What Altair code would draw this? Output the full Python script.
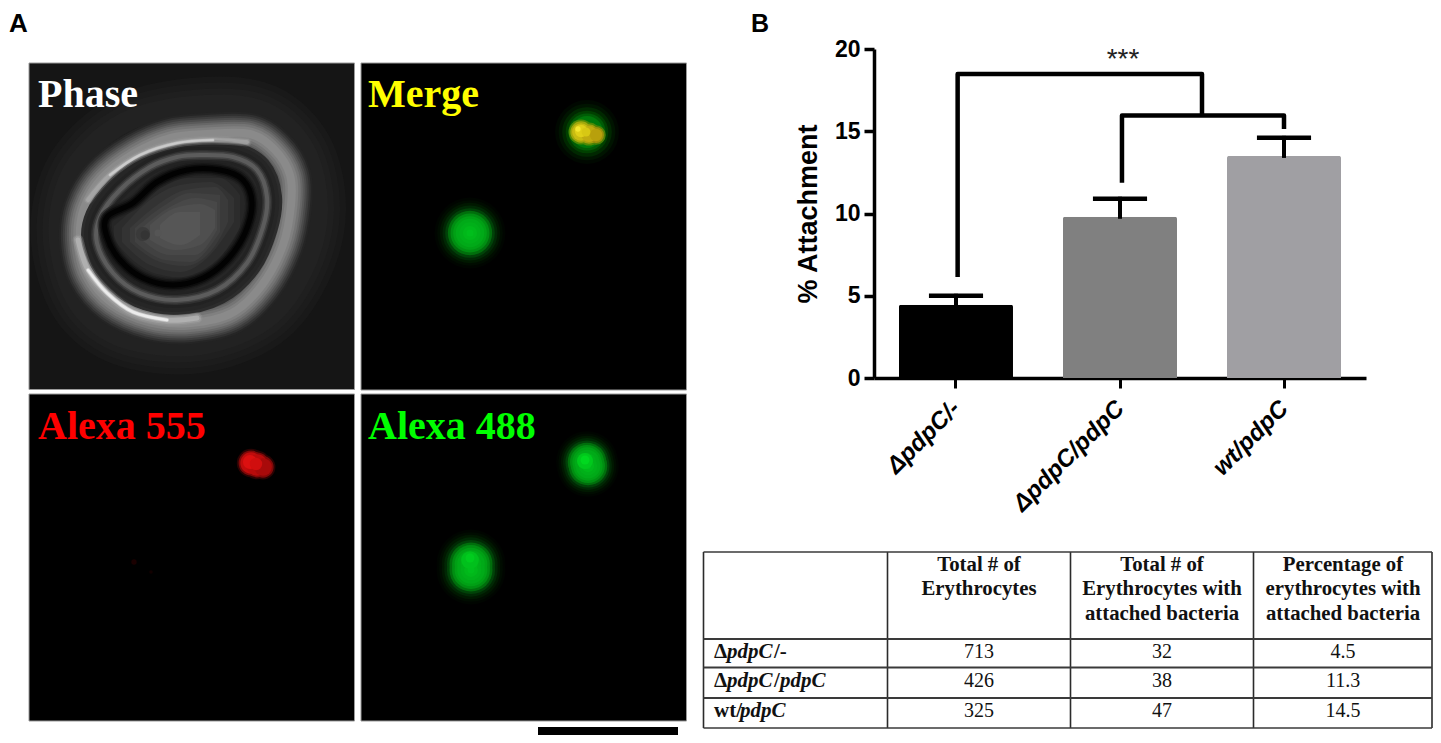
import altair as alt
import pandas as pd

# ---------- chart data ----------
strains = ["ΔpdpC/-", "ΔpdpC/pdpC", "wt/pdpC"]
attachment = [4.45, 9.8, 13.5]
attachment_upper = [5.0, 10.9, 14.6]
bar_colors = ["#000000", "#808080", "#a09fa3"]
y_ticks = [0, 5, 10, 15, 20]

erythrocytes = [713, 426, 325]
with_bacteria = [32, 38, 47]
percentage = [4.5, 11.3, 14.5]

# significance brackets, in (group index, % attachment)
bracket_outer = [(0.01, 6.14), (0.01, 18.48), (1.5, 18.48), (1.5, 15.95)]
bracket_inner = [(1.012, 11.87), (1.012, 15.95), (2.0, 15.95), (2.0, 15.14)]

# ---------- micrograph outlines (image pixels) ----------
band_ring = [(207,134),(250,134),(275,150),(290,175),(291,205),(283,245),(262,285),(232,313),(190,323),
             (150,320),(112,303),(88,275),(80,240),(84,208),(102,178),(135,153),(170,138)]
mid_ring = [(200,155),(233,157),(257,170),(267,197),(263,227),(247,263),(217,290),(177,300),(140,293),
            (113,273),(97,243),(100,217),(120,190),(150,167),(177,157)]
cell_ring = [(107,217),(133,203),(157,182),(187,170),(220,170),(243,180),(252,203),(245,233),(227,260),
             (203,278),(173,285),(143,278),(120,260),(107,237)]
halo_ring = [(205,105),(265,112),(305,150),(318,210),(303,270),(265,320),(200,345),(130,340),(85,312),
             (63,265),(60,210),(80,160),(130,120)]
arc_low = [(78,240),(88,270),(107,293),(133,312),(167,320),(197,318)]
arc_low_core = [(88,270),(107,293),(133,312),(167,320)]
arc_up = [(88,200),(110,175),(140,155),(177,143),(213,140),(247,142)]
arc_up_core = [(110,175),(140,155),(177,143),(213,140)]
arc_dark = [(248,117),(265,123),(278,134)]

cell_shades = [
    ([107,120,133,157,187,220,243,252],[217,210,203,182,170,170,180,203],[237,260,272,282,284,265,233,210],"#262626"),
    ([114,135,157,187,220,240],[226,208,190,178,178,195],[240,262,274,278,258,228],"#2c2c2c"),
    ([122,150,180,210,234],[228,200,185,182,198],[242,265,272,255,222],"#333333"),
    ([130,160,185,215,228],[228,203,190,187,200],[242,262,266,246,222],"#3a3a3a"),
    ([135,165,190,220],[228,205,193,195],[242,260,262,232],"#414141"),
    ([143,170,195,217],[227,207,198,202],[241,255,255,230],"#484848"),
    ([150,175,200,215],[225,208,204,210],[240,250,245,228],"#4f4f4f"),
    ([160,180,200],[225,212,212],[238,245,235],"#565656"),
]
spot_dark = [(143,234,8,"#3a3a3a"),(145,235,5,"#343434"),(158,233,4,"#555555")]

green_profile = [(40,"#000500"),(37,"#000c00"),(34,"#001800"),(31,"#002804"),(28,"#004208"),(25,"#006e0c"),
                 (22,"#008e12"),(19,"#00a015"),(16,"#00aa18"),(12,"#00b019"),(8,"#00b81a"),(4,"#00be1c")]
green_spots = [(470,233,1.0),(471,564,0.97),(471,570,0.97),(587,462,0.87),(588,466,0.87)]
dim_profile = [(36,"#000800"),(32,"#001400"),(28,"#002800"),(24,"#004000"),(21,"#005c06"),(18,"#00780a")]
dim_spots = [(587,132)]
small_spots = [(581,132,14,"#4e8a06"),(589,134,13,"#4e8a06"),(596,135,11,"#4e8006"),
               (581,132,12,"#a0a80c"),(589,134,11,"#a0a00c"),(596,135,9,"#9c900a"),
               (581,132,10,"#c8bc12"),(589,134,9,"#c0ac10"),(596,135,7,"#b8a00c"),
               (581,131,7,"#e0d018"),(586,132,5,"#d8c814"),(578,129,3,"#f4e830"),
               (251,463,16,"#2a0303"),(257,465,16,"#2a0303"),(263,467,14,"#2a0303"),
               (251,463,14,"#800808"),(257,465,14,"#800808"),(263,467,12,"#800808"),
               (251,463,12,"#c00c0c"),(257,465,12,"#b80b0b"),(263,467,10,"#a80a0a"),
               (250,462,8,"#dc1010"),(256,464,7,"#d00e0e"),
               (134,562,3,"#1a0000"),(151,572,2,"#120000"),
               (585,461,9,"#00c81c"),(585,460,5,"#00d81f"),(470,560,10,"#00c01c"),(470,558,5,"#00cc1e")]

# ---------- scales ----------
W, H = 1425, 727
SANS, SERIF = "Liberation Sans", "Liberation Serif"
px = alt.Scale(domain=[8, 8 + W], range=[0, W])
py = alt.Scale(domain=[8, 8 + H], range=[0, H])
X = lambda f="x": alt.X(f"{f}:Q", scale=px, axis=None)
Y = lambda f="y": alt.Y(f"{f}:Q", scale=py, axis=None)
X2 = lambda f="x2": alt.X2(f"{f}:Q")
Y2 = lambda f="y2": alt.Y2(f"{f}:Q")
idx_scale = alt.Scale(domain=[0, 2], range=[948, 1276])
val_scale = alt.Scale(domain=[0, 20], range=[370, 41], nice=False)

layers = []


def text(rows, size, color="#000000", weight="normal", style="normal", font=SERIF, align="left"):
    df = pd.DataFrame(rows, columns=["t", "x", "y"])
    layers.append(alt.Chart(df).mark_text(font=font, fontSize=size, color=color, fontWeight=weight,
                                          fontStyle=style, align=align, baseline="alphabetic")
                  .encode(x=X(), y=Y(), text="t:N"))


def rect(x, x2, y, y2, fill, stroke=None):
    kw = {"stroke": stroke, "strokeWidth": 1} if stroke else {}
    df = pd.DataFrame({"x": [x], "x2": [x2], "y": [y], "y2": [y2]})
    layers.append(alt.Chart(df).mark_rect(color=fill, **kw).encode(x=X(), x2=X2(), y=Y(), y2=Y2()))


def stroke_path(points, passes, closed=True):
    df = pd.DataFrame(points, columns=["x", "y"]).assign(i=range(len(points)))
    for width, color, op in passes:
        layers.append(alt.Chart(df).mark_line(interpolate="cardinal-closed" if closed else "cardinal",
                                              color=color, strokeWidth=width, opacity=op, strokeCap="round")
                      .encode(x=X(), y=Y(), order=alt.Order("i:Q")))


# ---------- panel A ----------
rect(29, 354.5, 63, 389.5, "#151515", "#9a9a9a")
for xa, ya in [(361, 63), (29, 394), (361, 394)]:
    rect(xa, xa + 325.5, ya, ya + 327, "#000000", "#9a9a9a")

stroke_path(halo_ring, [(56, "#191919", 1), (44, "#1c1c1c", 1), (32, "#1f1f1f", 1), (20, "#222222", 1)])
stroke_path(arc_dark, [(4, "#0e0e0e", 1)], closed=False)
stroke_path(band_ring, [(42, "#252525", 1), (38, "#303030", 1), (34, "#3d3d3d", 1), (30, "#4b4b4b", 1), (26, "#595959", 1),
                        (22, "#676767", 1), (18, "#747474", 1), (13, "#808080", 1), (8, "#8a8a8a", 1)])
stroke_path(mid_ring, [(30, "#2c2c2c", 1), (24, "#262626", 1), (16, "#222222", 1), (10, "#303030", 1), (7, "#444444", 1), (4, "#5c5c5c", 1)])
stroke_path(arc_low, [(11, "#a0a0a0", 0.3), (8, "#b0b0b0", 0.4), (5, "#c4c4c4", 0.5)], closed=False)
stroke_path(arc_low_core, [(4, "#dadada", 0.7), (2.5, "#efefef", 0.9)], closed=False)
stroke_path(arc_up, [(9, "#949494", 0.3), (6, "#a8a8a8", 0.4), (4, "#b4b4b4", 0.5)], closed=False)
stroke_path(arc_up_core, [(3, "#c4c4c4", 0.7), (2, "#d0d0d0", 0.8)], closed=False)
for xs, top, bot, col in cell_shades:
    df = pd.DataFrame({"x": xs, "y": top, "y2": bot})
    layers.append(alt.Chart(df).mark_area(color=col, interpolate="monotone", opacity=1)
                  .encode(x=X(), y=Y(), y2=Y2()))
stroke_path(cell_ring, [(14, "#1c1c1c", 0.6), (11, "#141414", 0.7), (8, "#0a0a0a", 0.85), (5, "#020202", 1)])

rows = []
for r, c in green_profile:
    for sx, sy, k in green_spots:
        rows.append({"x": sx, "y": sy, "s": 3.1416 * (r * k) ** 2, "c": c})
for r, c in dim_profile:
    for sx, sy in dim_spots:
        rows.append({"x": sx, "y": sy, "s": 3.1416 * r ** 2, "c": c})
for sx, sy, r, c in small_spots + spot_dark:
    rows.append({"x": sx, "y": sy, "s": 3.1416 * r ** 2, "c": c})
layers.append(alt.Chart(pd.DataFrame(rows)).mark_circle(opacity=1).encode(
    x=X(), y=Y(), size=alt.Size("s:Q", scale=None), color=alt.Color("c:N", scale=None)))

text([("Phase", 38, 107)], 40, "#ffffff", "bold")
text([("Merge", 368, 107)], 40, "#ffff00", "bold")
text([("Alexa 555", 38, 439)], 40, "#ff0000", "bold")
text([("Alexa 488", 368, 439)], 40, "#00ff00", "bold")
text([("A", 9, 32)], 26, weight="bold", font=SANS)
text([("B", 751, 32)], 25, weight="bold", font=SANS)
rect(538, 678, 727, 735, "#000000")

# ---------- panel B ----------
bars = pd.DataFrame({"strain": strains, "v": attachment, "c": bar_colors})
x_band = alt.Scale(domain=strains, range=[866, 1358], paddingInner=0.3049, paddingOuter=0.1524)
layers.append(alt.Chart(bars).mark_bar(cornerRadiusTopLeft=2, cornerRadiusTopRight=2).encode(
    x=alt.X("strain:N", scale=x_band, title=None, sort=strains,
            axis=alt.Axis(orient="bottom", offset=-(H - 370), domainWidth=3.5, domainColor="#000000",
                          tickColor="#000000", tickWidth=3, tickSize=10, labelAngle=-45, labelFont=SANS,
                          labelFontSize=24, labelFontWeight="bold", labelFontStyle="italic", labelOffset=-8,
                          labelColor="#000000", labelPadding=8, grid=False, labelOverlap=False)),
    y=alt.Y("v:Q", scale=val_scale, title="% Attachment",
            axis=alt.Axis(orient="left", offset=-866, values=y_ticks, domainWidth=3.5, domainColor="#000000",
                          tickColor="#000000", tickWidth=3.5, tickSize=10, labelFont=SANS, labelFontSize=23,
                          labelFontWeight="bold", labelColor="#000000", labelPadding=4, grid=False,
                          titleFont=SANS, titleFontSize=27, titleFontWeight="bold", titleColor="#000000",
                          titlePadding=12)),
    color=alt.Color("c:N", scale=None)))

err = pd.DataFrame({"i": list(range(3)), "lo": attachment, "hi": attachment_upper})
err["a"] = err["i"] - 0.165
err["b"] = err["i"] + 0.165
xi = alt.X("i:Q", scale=idx_scale, axis=None)
yv = alt.Y("lo:Q", scale=val_scale, axis=None)
layers.append(alt.Chart(err).mark_rule(color="#000000", strokeWidth=4, strokeCap="square").encode(
    x=xi, y=yv, y2=alt.Y2("hi:Q")))
layers.append(alt.Chart(err).mark_rule(color="#000000", strokeWidth=4.5).encode(
    x=alt.X("a:Q", scale=idx_scale, axis=None), x2=alt.X2("b:Q"),
    y=alt.Y("hi:Q", scale=val_scale, axis=None)))
for br in (bracket_outer, bracket_inner):
    df = pd.DataFrame(br, columns=["i", "v"]).assign(o=range(len(br)))
    layers.append(alt.Chart(df).mark_line(color="#000000", strokeWidth=4.5, strokeJoin="round").encode(
        x=alt.X("i:Q", scale=idx_scale, axis=None), y=alt.Y("v:Q", scale=val_scale, axis=None),
        order=alt.Order("o:Q")))
text([("***", 1123, 68)], 28, font=SANS, align="center", color="#222222")

# ---------- table ----------
col_edges = [703.5, 887.5, 1070.5, 1253.5, 1432]
row_edges = [552, 639, 667.5, 698, 728]
col_mid = [979, 1162, 1343]
row_base = [658, 687, 717]
for i, xv in enumerate(col_edges):
    df = pd.DataFrame({"x": [xv], "y": [row_edges[0]], "y2": [row_edges[-1]]})
    layers.append(alt.Chart(df).mark_rule(color="#2b2b2b", strokeWidth=1.6).encode(x=X(), y=Y(), y2=Y2()))
for i, yv_ in enumerate(row_edges):
    df = pd.DataFrame({"x": [col_edges[0]], "x2": [col_edges[-1]], "y": [yv_]})
    layers.append(alt.Chart(df).mark_rule(color="#3a3a3a", strokeWidth=2 if 0 < i < 4 else 1.6)
                  .encode(x=X(), x2=X2(), y=Y()))

text([("Total # of", col_mid[0], 571), ("Erythrocytes", col_mid[0], 595),
      ("Total # of", col_mid[1], 571), ("Erythrocytes with", col_mid[1], 595), ("attached bacteria", col_mid[1], 620),
      ("Percentage of", col_mid[2], 571), ("erythrocytes with", col_mid[2], 595), ("attached bacteria", col_mid[2], 620)],
     20.8, "#111111", "bold", align="center")
cells = []
for col, mid in zip((erythrocytes, with_bacteria, percentage), col_mid):
    cells += [(str(v), mid, b) for v, b in zip(col, row_base)]
text(cells, 20, "#111111", align="center")
text([("Δ", 714, 658), ("/-", 774, 658), ("Δ", 714, 687), ("/", 774, 687), ("wt/", 714, 717)], 21, "#111111", "bold")
text([("pdpC", 727, 658), ("pdpC", 727, 687), ("pdpC", 780, 687), ("pdpC", 740, 717)], 21, "#111111", "bold", "italic")

chart = alt.layer(*layers).resolve_scale(x="independent", y="independent").properties(
    width=W, height=H, padding=0, autosize=alt.AutoSizeParams(type="none")
).configure_view(strokeWidth=0)

chart.save("out.html", embed_options={"renderer": "svg", "actions": False})
